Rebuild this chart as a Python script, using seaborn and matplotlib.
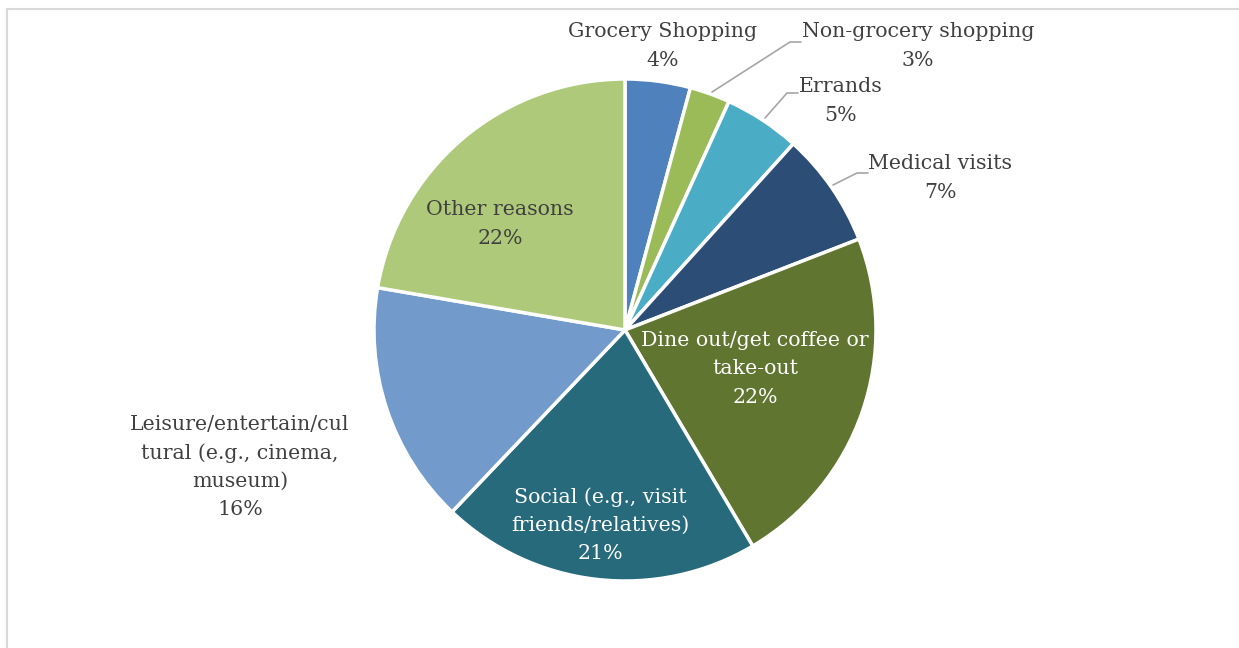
import matplotlib
matplotlib.use("Agg")
import matplotlib.pyplot as plt
import seaborn as sns
import numpy as np

sns.set_theme(style="white")
plt.rcParams['font.family'] = ['DejaVu Serif']

# ---- data ----
categories = ["Grocery Shopping", "Non-grocery shopping", "Errands", "Medical visits",
              "Dine out/get coffee or\ntake-out", "Social (e.g., visit\nfriends/relatives)",
              "Leisure/entertain/cul\ntural (e.g., cinema,\nmuseum)", "Other reasons"]
shares = [4.2, 2.6, 4.9, 7.4, 22.4, 20.6, 15.6, 22.3]
colors = ["#4F81BD", "#9BBB59", "#4BACC6", "#2C4D75",
          "#5F7530", "#276A7C", "#729ACA", "#AFC97A"]

W, H = 1239, 648
fig = plt.figure(figsize=(W / 100, H / 100), dpi=100)
ax = fig.add_axes([0, 0, 1, 1])

cx, cy, R = 625, 330, 251
# pie in y-down pixel coordinates: counterclock=True then appears clockwise
wedges, _ = ax.pie(shares, colors=colors, startangle=-90, counterclock=True,
                   center=(cx, cy), radius=R, frame=True,
                   wedgeprops=dict(edgecolor="white", linewidth=2.5))
ax.set_xlim(0, W)
ax.set_ylim(H, 0)
ax.axis("off")

text_dark = "#404040"
fs = 14.8
# label layout: (x, y center in pixels, color)
layout = [
    (663, 46, text_dark),
    (918, 46, text_dark),
    (841, 101, text_dark),
    (940, 178, text_dark),
    (755, 369, "white"),
    (600, 525, "white"),
    (240, 467, text_dark),
    (500, 224, text_dark),
]
for name, v, (x, y, c) in zip(categories, shares, layout):
    ax.text(x, y, f"{name}\n{v:.0f}%", ha="center", va="center", color=c,
            fontsize=fs, linespacing=1.62, family="DejaVu Serif")

# leader lines (pixel layout)
leaders = [
    [(712, 92), (790, 42), (801, 42)],
    [(765, 118), (787, 93), (798, 93)],
    [(833, 185), (857, 173), (868, 173)],
]
for pts in leaders:
    xs, ys = zip(*pts)
    ax.plot(xs, ys, color="#a6a6a6", lw=1.2)

# chart-area border remnants
fig.add_artist(plt.Line2D([6.5 / W, 1], [1 - 8.5 / H, 1 - 8.5 / H], transform=fig.transFigure,
                          color="#d9d9d9", lw=1.5))
fig.add_artist(plt.Line2D([6.5 / W, 6.5 / W], [0, 1 - 8.5 / H], transform=fig.transFigure,
                          color="#d9d9d9", lw=1.5))

fig.savefig("out.png", dpi=100, facecolor="white")
